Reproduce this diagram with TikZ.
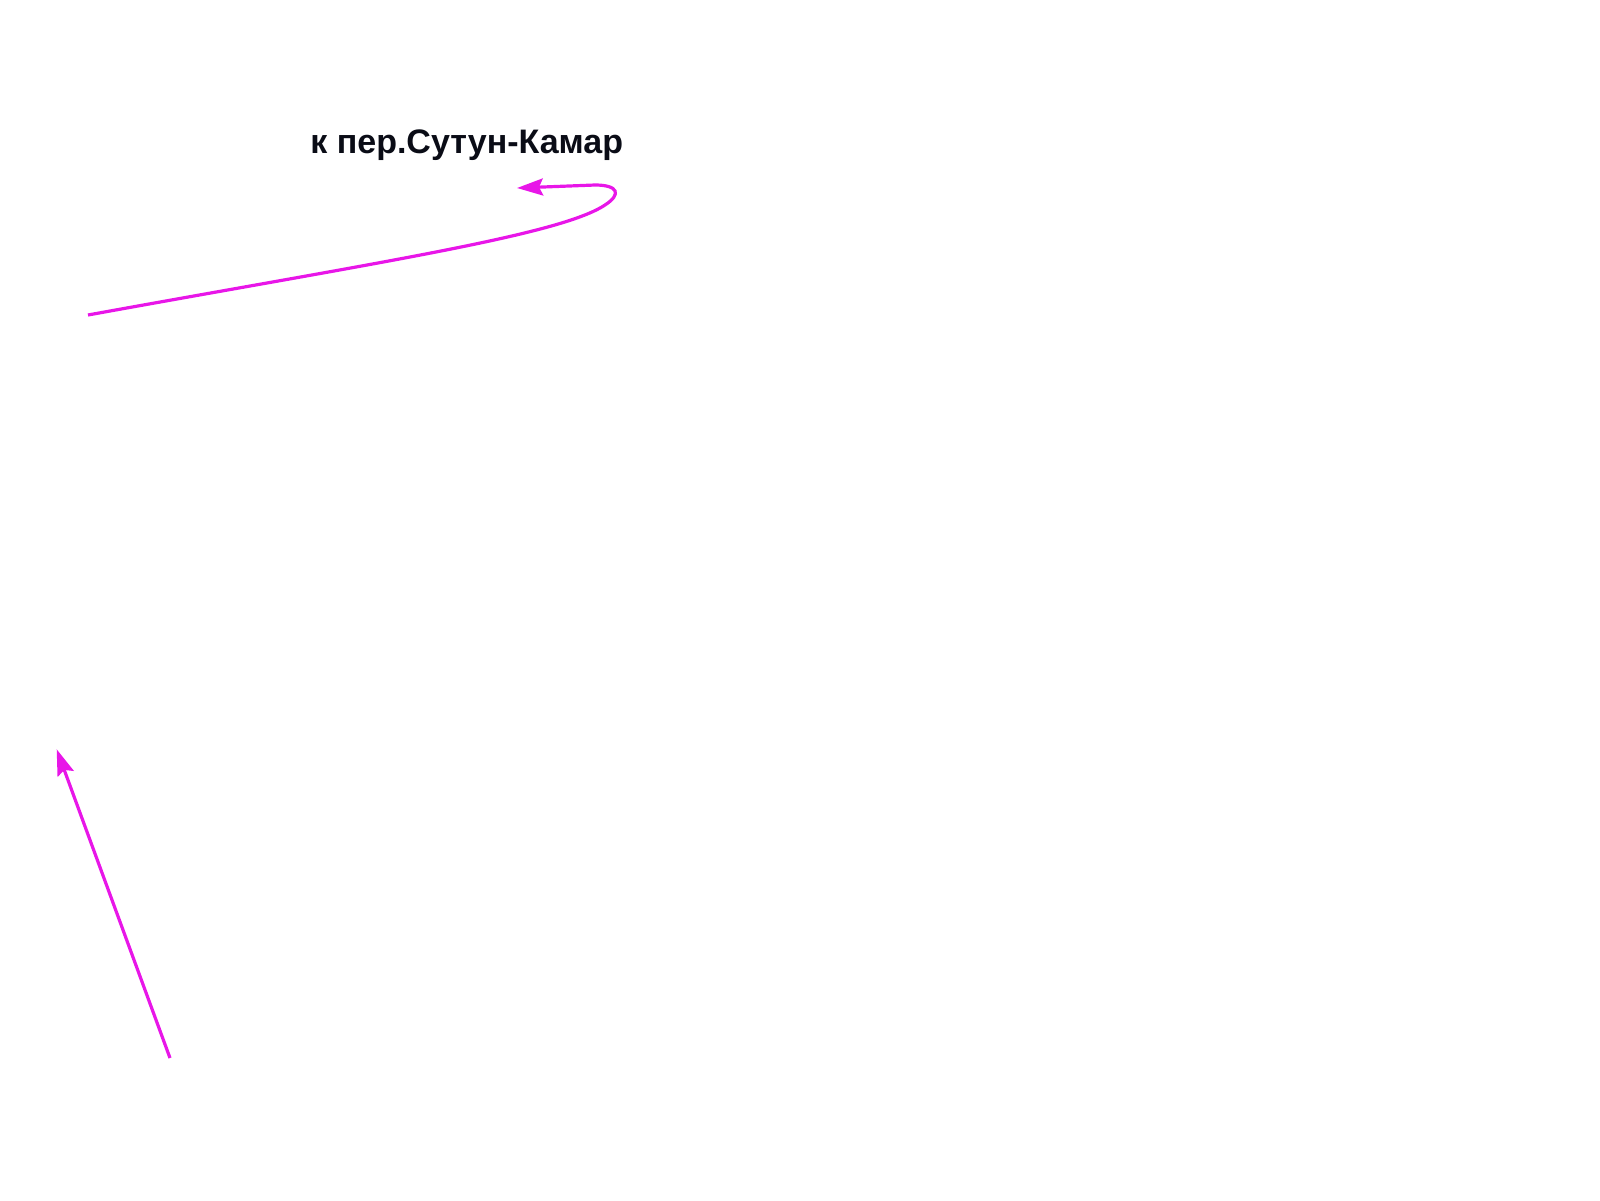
\documentclass[tikz,border=0pt]{standalone}
\usepackage{fontspec}
\setmainfont{Liberation Sans}
\usetikzlibrary{arrows.meta}
\definecolor{arrmag}{RGB}{232,22,232}
\definecolor{labink}{RGB}{10,12,22}
\begin{document}
\begin{tikzpicture}[x=0.5pt,y=-0.5pt,
  magarrow/.style={draw=arrmag,line width=1.6pt,-{Stealth[length=13pt,width=8.5pt,inset=2pt]}},
  lab/.style={font=\fontsize{17pt}{20pt}\selectfont\bfseries,text=labink,inner sep=0pt}]
\useasboundingbox (0,0) rectangle (1600,1200);
\node[lab,anchor=base west] (label) at (310,153) {к пер.Сутун-Камар};
\coordinate (s1) at (88,315);
\coordinate (e1) at (517,188);
\coordinate (s2) at (170,1058);
\coordinate (e2) at (56.7,749.3);
\draw[magarrow] (s1) .. controls (380,262) and (560,235) .. (605,205)
  .. controls (622,194) and (618,185) .. (595,185) -- (e1);
\draw[magarrow] (s2) -- (e2);
\end{tikzpicture}
\end{document}
